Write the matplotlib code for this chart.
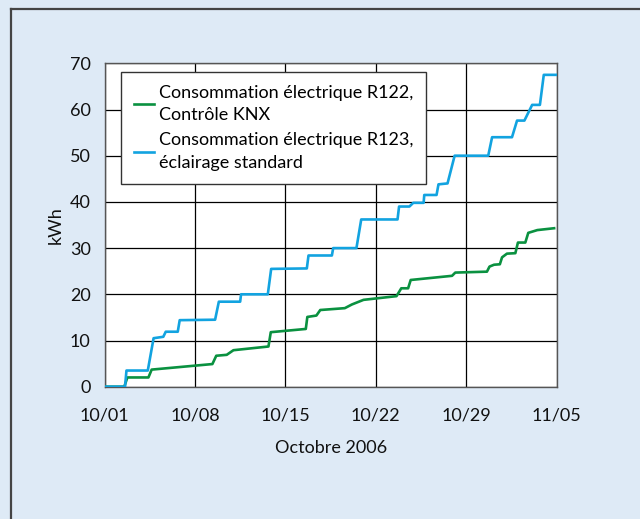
import matplotlib
matplotlib.use("Agg")
import matplotlib.pyplot as plt
from matplotlib.lines import Line2D

# days since 10/01 and cumulative kWh
days_r122 = [0.1, 1.53, 1.77, 3.4, 3.65, 8.35, 8.65, 9.46, 9.98, 12.69, 12.87,
             15.58, 15.7, 16.4, 16.7, 18.6, 19.15, 19.6, 20.05, 22.6, 22.97,
             23.5, 23.7, 26.9, 27.15, 29.6, 29.8, 30.15, 30.6, 30.77, 31.15,
             31.8, 32.0, 32.57, 32.8, 33.5, 34.8]
kwh_r122 = [0.0, 0.0, 2.0, 2.0, 3.7, 4.9, 6.7, 6.9, 7.9, 8.7, 11.8,
            12.5, 15.1, 15.4, 16.6, 17.0, 17.8, 18.3, 18.8, 19.6, 21.3,
            21.3, 23.1, 24.0, 24.7, 24.9, 26.0, 26.4, 26.5, 28.0, 28.8,
            28.9, 31.2, 31.2, 33.3, 33.9, 34.3]

days_r123 = [0.1, 1.59, 1.7, 3.35, 3.8, 4.55, 4.74, 5.67, 5.82, 8.56, 8.85,
             10.5, 10.57, 12.64, 12.9, 15.66, 15.79, 17.6, 17.7, 19.5, 19.87,
             22.68, 22.8, 23.6, 23.9, 24.7, 24.75, 25.7, 25.85, 26.55, 27.1,
             29.7, 30.0, 31.54, 31.93, 32.5, 33.1, 33.7, 34.0, 35.0]
kwh_r123 = [0.0, 0.0, 3.5, 3.5, 10.5, 10.8, 11.9, 11.9, 14.4, 14.5, 18.4,
            18.4, 20.0, 20.0, 25.5, 25.6, 28.4, 28.4, 30.0, 30.0, 36.2,
            36.2, 39.0, 39.0, 39.8, 39.8, 41.5, 41.5, 43.8, 44.0, 50.0,
            50.0, 54.0, 54.0, 57.6, 57.6, 61.0, 61.0, 67.5, 67.5]

tick_days = [0, 7, 14, 21, 28, 35]
tick_labels = ["10/01", "10/08", "10/15", "10/22", "10/29", "11/05"]
y_ticks = [0, 10, 20, 30, 40, 50, 60, 70]

green = "#0a9140"
blue = "#12a3e0"
bg = "#deeaf6"
font = ["Lato", "DejaVu Sans"]

plt.rcParams["font.family"] = font

fig = plt.figure(figsize=(6.4, 5.19), dpi=100, facecolor=bg)

# frame around the panel (only top and left edges are visible)
fig.add_artist(Line2D([11 / 640, 11 / 640], [0, 1 - 9 / 519],
                      transform=fig.transFigure, color="#444444", lw=1.6))
fig.add_artist(Line2D([11 / 640, 1], [1 - 9 / 519, 1 - 9 / 519],
                      transform=fig.transFigure, color="#444444", lw=1.6))

ax = fig.add_axes([104.5 / 640, 1 - 386.7 / 519, 452.2 / 640, 323.4 / 519])
ax.set_facecolor("white")

ax.plot(days_r122, kwh_r122, color=green, lw=1.9, zorder=3)
ax.plot(days_r123, kwh_r123, color=blue, lw=1.9, zorder=3)

ax.set_xlim(0, 35)
ax.set_ylim(0, 70)
ax.set_xticks(tick_days)
ax.set_xticklabels(tick_labels)
ax.set_yticks(y_ticks)
ax.tick_params(length=0, labelsize=13, colors="#111111")
ax.tick_params(axis="x", pad=15)
ax.tick_params(axis="y", pad=10)
ax.grid(True, color="black", lw=0.9)
ax.set_axisbelow(True)
for s in ax.spines.values():
    s.set_color("#555555")
    s.set_linewidth(1.0)

ax.set_xlabel("Octobre 2006", fontsize=13, labelpad=12, color="#111111")
ax.set_ylabel("kWh", fontsize=13, labelpad=4, color="#111111")

handles = [Line2D([], [], color=green, lw=1.9), Line2D([], [], color=blue, lw=1.9)]
leg = ax.legend(handles,
                ["Consommation électrique R122,\nContrôle KNX",
                 "Consommation électrique R123,\néclairage standard"],
                loc="upper left", bbox_to_anchor=(16.5 / 452.2, 1 - 9 / 323.4),
                fontsize=13, frameon=True, fancybox=False, framealpha=1,
                edgecolor="#333333", handlelength=1.1, handletextpad=0.3,
                borderpad=0.7, labelspacing=0.5, borderaxespad=0)
leg.get_frame().set_linewidth(1.0)
for t in leg.get_texts():
    t.set_linespacing(1.5)

fig.savefig("out.png", dpi=100, facecolor=bg)
